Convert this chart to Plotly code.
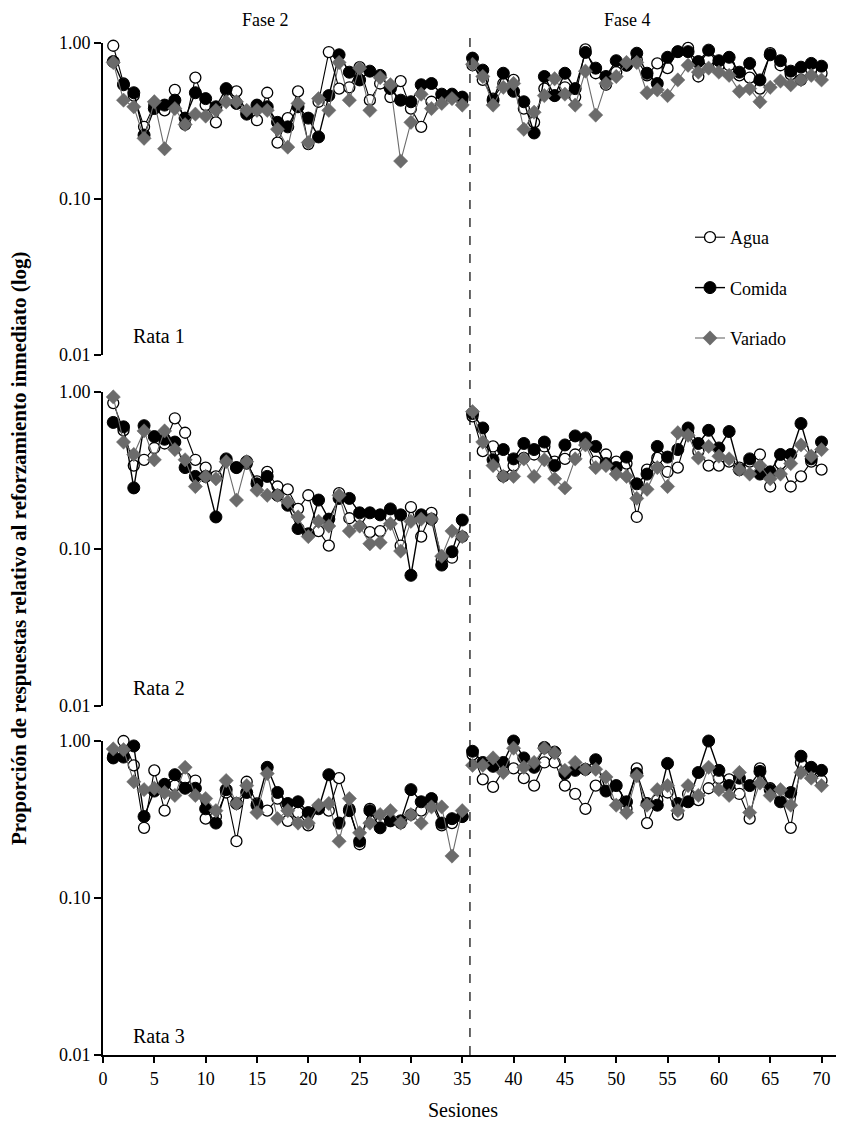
import plotly.graph_objects as go
from plotly.subplots import make_subplots

# ---------------- data ----------------
sessions_f2 = list(range(1, 36))
sessions_f4 = list(range(36, 71))

# Rata 1
r1_agua_f2 = [0.96, 0.55, 0.46, 0.29, 0.40, 0.37, 0.50, 0.30, 0.60, 0.40,
              0.31, 0.50, 0.49, 0.36, 0.32, 0.48, 0.23, 0.33, 0.49, 0.225,
              0.42, 0.875, 0.51, 0.52, 0.70, 0.43, 0.55, 0.45, 0.57, 0.38,
              0.29, 0.42, 0.44, 0.45, 0.43]
r1_comida_f2 = [0.76, 0.54, 0.48, 0.257, 0.38, 0.40, 0.43, 0.33, 0.48, 0.44,
                0.39, 0.51, 0.41, 0.35, 0.40, 0.39, 0.31, 0.29, 0.39, 0.33,
                0.25, 0.46, 0.84, 0.65, 0.58, 0.66, 0.62, 0.51, 0.43, 0.42,
                0.54, 0.55, 0.47, 0.47, 0.45]
r1_variado_f2 = [0.75, 0.43, 0.39, 0.245, 0.42, 0.21, 0.38, 0.30, 0.35, 0.34,
                 0.37, 0.42, 0.42, 0.37, 0.37, 0.37, 0.28, 0.215, 0.41, 0.23,
                 0.44, 0.37, 0.75, 0.43, 0.69, 0.37, 0.60, 0.54, 0.175, 0.31,
                 0.47, 0.38, 0.41, 0.44, 0.40]
r1_agua_f4 = [0.72, 0.58, 0.44, 0.55, 0.58, 0.38, 0.31, 0.51, 0.46, 0.52,
              0.45, 0.91, 0.64, 0.54, 0.65, 0.72, 0.78, 0.62, 0.74, 0.69,
              0.88, 0.93, 0.61, 0.78, 0.72, 0.72, 0.62, 0.60, 0.51, 0.86,
              0.72, 0.63, 0.58, 0.68, 0.64]
r1_comida_f4 = [0.80, 0.67, 0.43, 0.64, 0.49, 0.42, 0.265, 0.61, 0.46, 0.64,
                0.51, 0.87, 0.69, 0.61, 0.77, 0.72, 0.86, 0.64, 0.55, 0.81,
                0.88, 0.88, 0.76, 0.90, 0.77, 0.81, 0.65, 0.74, 0.58, 0.84,
                0.77, 0.66, 0.70, 0.74, 0.71]
r1_variado_f4 = [0.73, 0.61, 0.40, 0.52, 0.55, 0.28, 0.36, 0.46, 0.59, 0.47,
                 0.40, 0.66, 0.345, 0.55, 0.61, 0.75, 0.75, 0.48, 0.50, 0.46,
                 0.58, 0.72, 0.65, 0.69, 0.65, 0.62, 0.49, 0.51, 0.42, 0.52,
                 0.57, 0.54, 0.58, 0.62, 0.58]

# Rata 2
r2_agua_f2 = [0.85, 0.57, 0.34, 0.37, 0.44, 0.47, 0.68, 0.55, 0.37, 0.33,
              0.29, 0.37, 0.33, 0.35, 0.27, 0.31, 0.25, 0.24, 0.18, 0.22,
              0.13, 0.105, 0.227, 0.157, 0.16, 0.128, 0.13, 0.16, 0.105, 0.185,
              0.12, 0.17, 0.085, 0.088, 0.12]
r2_comida_f2 = [0.64, 0.60, 0.245, 0.61, 0.52, 0.50, 0.48, 0.33, 0.29, 0.29,
                0.16, 0.375, 0.33, 0.36, 0.26, 0.29, 0.22, 0.19, 0.135, 0.125,
                0.205, 0.155, 0.21, 0.21, 0.17, 0.17, 0.165, 0.18, 0.165, 0.068,
                0.165, 0.155, 0.079, 0.096, 0.153]
r2_variado_f2 = [0.93, 0.48, 0.40, 0.565, 0.37, 0.565, 0.43, 0.37, 0.25, 0.29,
                 0.28, 0.36, 0.205, 0.36, 0.237, 0.22, 0.22, 0.20, 0.16, 0.12,
                 0.15, 0.14, 0.22, 0.13, 0.14, 0.108, 0.11, 0.145, 0.097, 0.15,
                 0.155, 0.155, 0.09, 0.13, 0.12]
r2_agua_f4 = [0.70, 0.42, 0.45, 0.29, 0.34, 0.38, 0.40, 0.45, 0.36, 0.375,
              0.40, 0.48, 0.36, 0.40, 0.36, 0.35, 0.16, 0.32, 0.38, 0.31,
              0.33, 0.55, 0.42, 0.34, 0.34, 0.36, 0.33, 0.36, 0.40, 0.25,
              0.35, 0.25, 0.29, 0.36, 0.32]
r2_comida_f4 = [0.73, 0.59, 0.37, 0.43, 0.375, 0.47, 0.43, 0.48, 0.34, 0.46,
                0.525, 0.51, 0.45, 0.35, 0.33, 0.385, 0.26, 0.30, 0.45, 0.385,
                0.43, 0.59, 0.47, 0.57, 0.44, 0.56, 0.32, 0.375, 0.30, 0.31,
                0.40, 0.40, 0.63, 0.375, 0.48]
r2_variado_f4 = [0.75, 0.48, 0.34, 0.29, 0.29, 0.375, 0.29, 0.37, 0.28, 0.245,
                 0.375, 0.46, 0.33, 0.34, 0.30, 0.29, 0.21, 0.24, 0.33, 0.25,
                 0.55, 0.53, 0.38, 0.45, 0.39, 0.375, 0.32, 0.30, 0.34, 0.28,
                 0.30, 0.35, 0.46, 0.39, 0.43]

# Rata 3
r3_agua_f2 = [0.80, 1.00, 0.70, 0.28, 0.65, 0.36, 0.52, 0.58, 0.56, 0.32,
              0.33, 0.47, 0.23, 0.55, 0.40, 0.36, 0.43, 0.31, 0.35, 0.29,
              0.38, 0.36, 0.58, 0.37, 0.22, 0.37, 0.30, 0.31, 0.30, 0.34,
              0.36, 0.40, 0.29, 0.30, 0.33]
r3_comida_f2 = [0.78, 0.79, 0.93, 0.33, 0.48, 0.53, 0.61, 0.50, 0.50, 0.37,
                0.30, 0.49, 0.40, 0.47, 0.39, 0.68, 0.47, 0.40, 0.41, 0.35,
                0.37, 0.61, 0.30, 0.36, 0.23, 0.36, 0.28, 0.31, 0.31, 0.49,
                0.41, 0.43, 0.30, 0.32, 0.33]
r3_variado_f2 = [0.89, 0.88, 0.55, 0.49, 0.50, 0.47, 0.45, 0.68, 0.45, 0.43,
                 0.36, 0.56, 0.40, 0.52, 0.35, 0.62, 0.32, 0.36, 0.30, 0.30,
                 0.39, 0.40, 0.23, 0.43, 0.26, 0.30, 0.34, 0.36, 0.30, 0.34,
                 0.30, 0.38, 0.38, 0.185, 0.36]
r3_agua_f4 = [0.82, 0.57, 0.51, 0.65, 0.67, 0.58, 0.52, 0.73, 0.73, 0.52,
              0.46, 0.37, 0.52, 0.55, 0.45, 0.37, 0.67, 0.30, 0.42, 0.47,
              0.34, 0.46, 0.42, 0.50, 0.58, 0.57, 0.46, 0.32, 0.67, 0.50,
              0.45, 0.28, 0.73, 0.65, 0.56]
r3_comida_f4 = [0.86, 0.73, 0.69, 0.73, 1.00, 0.78, 0.68, 0.91, 0.85, 0.62,
                0.65, 0.66, 0.76, 0.48, 0.52, 0.41, 0.62, 0.40, 0.39, 0.72,
                0.40, 0.41, 0.63, 1.00, 0.65, 0.52, 0.58, 0.52, 0.64, 0.49,
                0.41, 0.47, 0.80, 0.68, 0.65]
r3_variado_f4 = [0.70, 0.70, 0.78, 0.63, 0.90, 0.68, 0.73, 0.90, 0.84, 0.65,
                 0.73, 0.66, 0.66, 0.59, 0.39, 0.35, 0.60, 0.39, 0.49, 0.52,
                 0.36, 0.52, 0.45, 0.68, 0.49, 0.45, 0.63, 0.35, 0.54, 0.45,
                 0.49, 0.39, 0.63, 0.58, 0.52]

series_names = ["Agua", "Comida", "Variado"]
panel_labels = ["Rata 1", "Rata 2", "Rata 3"]
phase_labels = ["Fase 2", "Fase 4"]
ytick_vals = [0.01, 0.1, 1.0]
ytick_text = ["0.01", "0.10", "1.00"]
xtick_vals = list(range(0, 71, 5))

panels = [
    [(r1_agua_f2, r1_agua_f4), (r1_comida_f2, r1_comida_f4), (r1_variado_f2, r1_variado_f4)],
    [(r2_agua_f2, r2_agua_f4), (r2_comida_f2, r2_comida_f4), (r2_variado_f2, r2_variado_f4)],
    [(r3_agua_f2, r3_agua_f4), (r3_comida_f2, r3_comida_f4), (r3_variado_f2, r3_variado_f4)],
]

# ---------------- styles ----------------
FONT = "Liberation Serif"
GRAY = "#6b6b6b"
styles = {
    "Agua": dict(marker=dict(symbol="circle", size=11, color="white",
                             line=dict(color="black", width=1.3)),
                 line=dict(color="black", width=1.1)),
    "Comida": dict(marker=dict(symbol="circle", size=12, color="black",
                               line=dict(color="black", width=1)),
                   line=dict(color="black", width=1.4)),
    "Variado": dict(marker=dict(symbol="diamond", size=11, color=GRAY,
                                line=dict(color=GRAY, width=0.5)),
                    line=dict(color=GRAY, width=1.1)),
}

# page has an 8px body margin: figure coords = page coords - 8
OFF = 8
W, H = 844, 1125
L, R, T, B = 103 - OFF, 840 - OFF, 43 - OFF, 1055 - OFF

fig = make_subplots(rows=3, cols=1, shared_xaxes=True)

for pi, panel in enumerate(panels):
    for si, name in enumerate(series_names):
        f2, f4 = panel[si]
        xs = sessions_f2 + [None] + sessions_f4
        ys = list(f2) + [None] + list(f4)
        fig.add_trace(
            go.Scatter(
                x=xs, y=ys, mode="lines+markers", name=name,
                legendgroup=name, showlegend=(pi == 0),
                connectgaps=False, cliponaxis=False,
                **styles[name],
            ),
            row=pi + 1, col=1,
        )

def py(page_y):
    return (B - (page_y - OFF)) / (B - T)

def pxx(page_x):
    return ((page_x - OFF) - L) / (R - L)

domains = [(py(355), 1.0), (py(706), py(392)), (0.0, py(741))]

for i in range(3):
    ya = "yaxis" if i == 0 else f"yaxis{i+1}"
    xa = "xaxis" if i == 0 else f"xaxis{i+1}"
    fig.layout[ya].update(
        domain=list(domains[i]), type="log", range=[-2, 0],
        tickvals=ytick_vals, ticktext=ytick_text,
        showline=True, linecolor="black", linewidth=2,
        ticks="outside", ticklen=7, tickwidth=1.5, tickcolor="black",
        showgrid=False, zeroline=False,
        tickfont=dict(family=FONT, size=18, color="black"),
    )
    fig.layout[xa].update(
        range=[0, 71.8], showgrid=False, zeroline=False,
        showline=(i == 2), linecolor="black", linewidth=2,
        ticks="outside" if i == 2 else "", ticklen=6, tickwidth=1.5,
        tickcolor="black", tickvals=xtick_vals,
        showticklabels=(i == 2),
        tickfont=dict(family=FONT, size=18, color="black"),
    )

# dashed phase separator
fig.add_shape(type="line", xref="x3", yref="paper", x0=35.75, x1=35.75,
              y0=0, y1=py(38), line=dict(color="black", width=1.2, dash="dash"))

annotations = []
for lab, xpx in zip(phase_labels, [265, 627]):
    annotations.append(dict(text=lab, xref="paper", yref="paper",
                            x=pxx(xpx), y=py(20), xanchor="center", yanchor="middle",
                            showarrow=False,
                            font=dict(family=FONT, size=18, color="black")))
for lab, ypx in zip(panel_labels, [336, 688, 1036]):
    annotations.append(dict(text=lab, xref="paper", yref="paper",
                            x=pxx(131), y=py(ypx), xanchor="left", yanchor="middle",
                            showarrow=False,
                            font=dict(family=FONT, size=20, color="black")))
annotations.append(dict(text="<b>Proporción de respuestas relativo al reforzamiento inmediato (log)</b>",
                        xref="paper", yref="paper", x=pxx(19), y=py(548),
                        xanchor="center", yanchor="middle",
                        textangle=-90, showarrow=False,
                        font=dict(family=FONT, size=21, color="black")))
annotations.append(dict(text="Sesiones", xref="paper", yref="paper",
                        x=pxx(463), y=py(1110), xanchor="center", yanchor="middle",
                        showarrow=False,
                        font=dict(family=FONT, size=20, color="black")))

fig.update_layout(
    width=W, height=H,
    margin=dict(l=L, r=W - R, t=T, b=H - B),
    paper_bgcolor="white", plot_bgcolor="white",
    annotations=annotations,
    showlegend=True,
    legend=dict(x=pxx(690), y=py(219), xanchor="left", yanchor="top",
                traceorder="grouped", tracegroupgap=24,
                bgcolor="rgba(0,0,0,0)",
                font=dict(family=FONT, size=18, color="black")),
)

fig.write_html("out.html")
